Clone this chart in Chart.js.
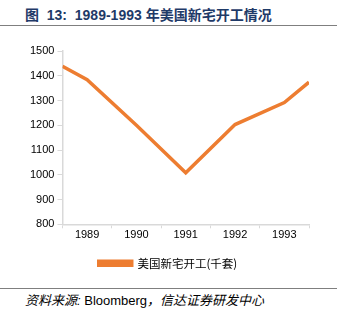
<!DOCTYPE html>
<html lang="zh">
<head>
<meta charset="UTF-8">
<title>1989-1993 年美国新宅开工情况</title>
<script src="https://cdn.jsdelivr.net/npm/chart.js"></script>
<style>
    body { margin: 0; background: #fff; width: 343px; height: 322px; position: relative; overflow: hidden; }
    .title {
        position: absolute; left: 25px; top: 4px;
        font: bold 14px "Liberation Sans", "Noto Sans CJK SC", sans-serif;
        color: #1f3a68; white-space: pre;
    }
    .rule { position: absolute; left: 0; width: 337px; height: 1px; background: #7f7f7f; }
    .source {
        position: absolute; left: 25px; top: 290px;
        font: italic 13px "Liberation Sans", "Noto Sans CJK SC", sans-serif;
        color: #000; white-space: pre;
    }
    .source span { font-style: normal; }
    .chart-box { position: absolute; left: 0; top: 38px; width: 343px; height: 241px; }
</style>
</head>
<body>
<div class="title">图  13:  1989-1993 年美国新宅开工情况</div>
<div class="rule" style="top:25px"></div>
<div class="chart-box"><canvas id="starts"></canvas></div>
<div class="rule" style="top:288px"></div>
<div class="source">资料来源: <span>Bloomberg</span>，信达证券研发中心</div>

<script>
    // years on the axis, and the value at each year's centre
    const years = ['1989', '1990', '1991', '1992', '1993'];
    const starts = [1384, 1200, 1008, 1203, 1292];
    // the line runs on to both edges of the plot
    const startEdge = 1438;
    const endEdge = 1374;
    const yTicks = [800, 900, 1000, 1100, 1200, 1300, 1400, 1500];

    const points = [{ x: 0, y: startEdge }]
        .concat(starts.map((v, i) => ({ x: i + 0.5, y: v })))
        .concat([{ x: years.length, y: endEdge }]);

    const orange = '#ed7d31';
    const axisGrey = '#d9d9d9';

    new Chart(document.getElementById('starts'), {
        type: 'line',
        data: {
            datasets: [{
                label: '美国新宅开工(千套)',
                data: points,
                borderColor: orange,
                backgroundColor: orange,
                borderWidth: 3.5,
                pointRadius: 0,
                tension: 0
            }]
        },
        options: {
            responsive: true,
            maintainAspectRatio: false,
            animation: false,
            layout: { padding: { left: 27, right: 34, top: 13, bottom: 0 } },
            plugins: {
                tooltip: { enabled: false },
                legend: {
                    position: 'bottom',
                    labels: {
                        boxWidth: 33,
                        boxHeight: 4,
                        padding: 16,
                        color: '#000',
                        font: { family: '"Noto Sans CJK SC", sans-serif', size: 11.5 }
                    }
                }
            },
            scales: {
                x: {
                    type: 'linear',
                    min: 0,
                    max: years.length,
                    afterBuildTicks: axis => {
                        axis.ticks = [];
                        for (let v = 0; v <= years.length; v += 0.5) axis.ticks.push({ value: v });
                    },
                    border: { color: axisGrey, width: 1.5 },
                    grid: {
                        drawOnChartArea: false,
                        tickLength: 4,
                        tickColor: ctx => (ctx.tick && ctx.tick.value % 1 === 0 ? axisGrey : 'rgba(0,0,0,0)')
                    },
                    ticks: {
                        autoSkip: false,
                        maxRotation: 0,
                        padding: 0,
                        color: '#000',
                        font: { family: '"Liberation Sans", Arial, sans-serif', size: 11 },
                        callback: v => (v % 1 ? years[Math.floor(v)] : '')
                    }
                },
                y: {
                    min: 800,
                    max: 1500,
                    afterBuildTicks: axis => { axis.ticks = yTicks.map(v => ({ value: v })); },
                    border: { color: axisGrey, width: 1.5 },
                    grid: { drawOnChartArea: false, tickLength: 5, tickColor: axisGrey },
                    ticks: {
                        padding: 3,
                        color: '#000',
                        font: { family: '"Liberation Sans", Arial, sans-serif', size: 11 },
                        callback: v => String(v)
                    }
                }
            }
        }
    });
</script>
</body>
</html>
